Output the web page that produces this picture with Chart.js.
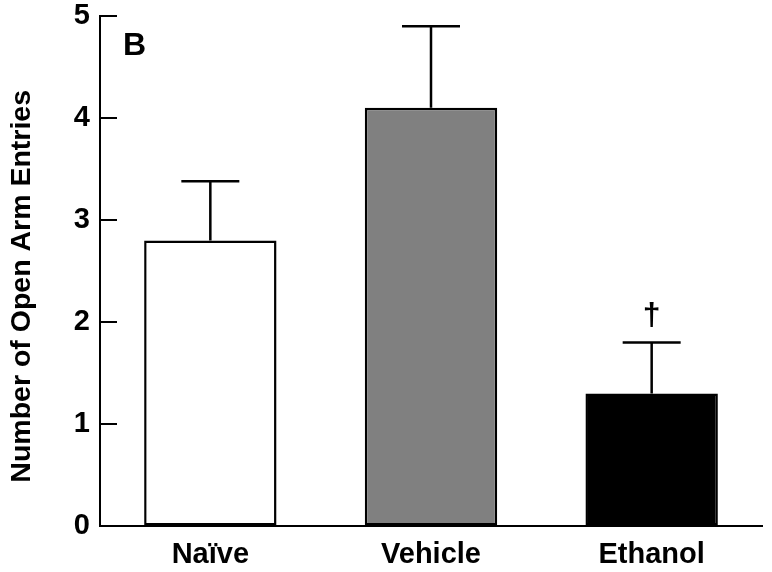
<!DOCTYPE html>
<html>
<head>
<meta charset="utf-8">
<script src="https://cdn.jsdelivr.net/npm/chart.js@4"></script>
<style>
  body { margin: 0; background: #fff; }
  canvas { display: block; }
</style>
</head>
<body>
<canvas id="entriesChart" width="772" height="572"></canvas>
<script>
const groups = ['Naïve', 'Vehicle', 'Ethanol'];
const means = [2.8, 4.1, 1.3];
const sem = [0.58, 0.8, 0.5];
const marks = ['', '', '†'];
const barColors = ['#ffffff', '#808080', '#000000'];
const yTicks = [0, 1, 2, 3, 4, 5];
const yTitle = 'Number of Open Arm Entries';

const FONT = '"Liberation Sans", Arial, Helvetica, sans-serif';

// error bars (upper only), inward y ticks, significance marks, axis title and panel letter
const extras = {
    id: 'extras',
    afterDatasetsDraw(chart) {
        const ctx = chart.ctx;
        const y = chart.scales.y;
        const meta = chart.getDatasetMeta(0);
        ctx.save();
        ctx.strokeStyle = '#000';
        ctx.lineWidth = 2.5;
        meta.data.forEach((bar, i) => {
            const top = y.getPixelForValue(means[i] + sem[i]);
            ctx.beginPath();
            ctx.moveTo(bar.x, bar.y);
            ctx.lineTo(bar.x, top);
            ctx.moveTo(bar.x - 29, top);
            ctx.lineTo(bar.x + 29, top);
            ctx.stroke();
            if (marks[i]) {
                ctx.fillStyle = '#000';
                ctx.font = 'bold 32px ' + FONT;
                ctx.textAlign = 'center';
                ctx.textBaseline = 'middle';
                ctx.fillText(marks[i], bar.x, top - 26);
            }
        });
        // ticks pointing into the plot
        const left = chart.chartArea.left;
        ctx.lineWidth = 2;
        yTicks.forEach(v => {
            if (v === 0) return;
            const py = y.getPixelForValue(v);
            ctx.beginPath();
            ctx.moveTo(left, py);
            ctx.lineTo(left + 17, py);
            ctx.stroke();
        });
        ctx.fillStyle = '#000';
        ctx.font = 'bold 32px ' + FONT;
        ctx.textAlign = 'left';
        ctx.textBaseline = 'alphabetic';
        ctx.fillText('B', left + 23, 55);

        // y title, a bit below the axis centre as in the original
        ctx.translate(22, y.getPixelForValue(2.35));
        ctx.rotate(-Math.PI / 2);
        ctx.font = 'bold 28.5px ' + FONT;
        ctx.textAlign = 'center';
        ctx.textBaseline = 'middle';
        ctx.fillText(yTitle, 0, 0);
        ctx.restore();
    }
};

new Chart(document.getElementById('entriesChart').getContext('2d'), {
    type: 'bar',
    data: {
        labels: groups,
        datasets: [{
            data: means,
            backgroundColor: barColors,
            borderColor: '#000',
            borderWidth: 2.5,
            borderSkipped: false,
            barPercentage: 0.6,
            categoryPercentage: 1
        }]
    },
    options: {
        responsive: false,
        animation: false,
        layout: { padding: { top: 16, right: 10, left: 0, bottom: 0 } },
        plugins: {
            legend: { display: false },
            tooltip: { enabled: false }
        },
        scales: {
            x: {
                grid: { display: false },
                border: { display: true, color: '#000', width: 2 },
                ticks: {
                    color: '#000',
                    padding: 4,
                    font: { family: FONT, size: 29, weight: 'bold' }
                },
                afterFit(scale) {
                    scale.height = 46;
                    scale.paddingLeft = 0;
                    scale.paddingRight = 0;
                }
            },
            y: {
                min: 0,
                max: 5,
                afterBuildTicks(scale) { scale.ticks = yTicks.map(v => ({ value: v })); },
                grid: { drawOnChartArea: false, drawTicks: false },
                border: { display: true, color: '#000', width: 2 },
                ticks: {
                    color: '#000',
                    padding: 10,
                    font: { family: FONT, size: 29, weight: 'bold' }
                },
                afterFit(scale) {
                    scale.width = 100;
                    scale.paddingTop = 0;
                    scale.paddingBottom = 0;
                }
            }
        }
    },
    plugins: [extras]
});
</script>
</body>
</html>
